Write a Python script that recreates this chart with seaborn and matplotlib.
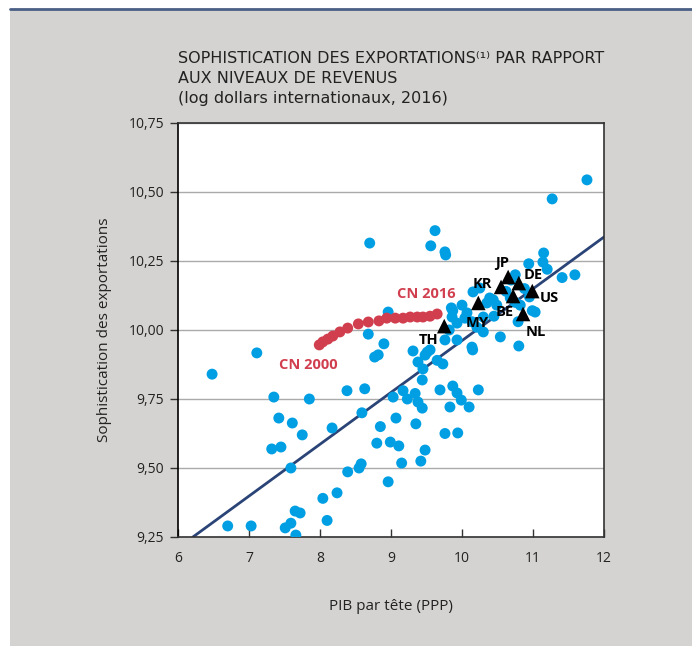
import matplotlib
matplotlib.use("Agg")
import matplotlib.pyplot as plt
import matplotlib.patches as mpatches
import matplotlib.lines as mlines
from matplotlib.ticker import FuncFormatter
import seaborn as sns
import pandas as pd

# Countries: log GDP per capita (PPP) vs export sophistication
gdp = [6.48, 7.11, 7.35, 7.85, 8.38, 8.63, 7.42, 7.61, 7.75, 7.32, 7.45, 8.17, 8.59, 8.85, 8.80,
       7.59, 8.39, 8.55, 8.58, 8.24, 8.04, 7.65, 7.72, 8.10, 6.70, 7.03, 7.51, 7.59, 7.66, 8.96,
       8.68, 8.90, 8.77, 8.82, 9.03, 8.70, 9.62, 9.56, 9.76, 9.77, 11.76, 11.27, 11.15, 11.14,
       11.20, 10.94, 11.41, 11.59, 10.75, 10.69, 10.155, 10.25, 10.39, 10.44, 10.35, 10.49, 10.68,
       10.82, 10.99, 11.03, 10.79, 10.80, 10.54, 10.30, 10.21, 10.14, 10.07, 9.87, 9.86, 10.04,
       10.30, 9.93, 10.15, 10.14, 9.76, 8.96, 9.93, 9.31, 9.51, 9.55, 9.48, 9.65, 9.73, 9.38,
       9.45, 9.44, 9.17, 9.23, 9.34, 9.38, 9.44, 9.69, 9.87, 9.93, 9.99, 10.23, 9.83, 10.10,
       9.07, 9.35, 9.76, 9.94, 8.99, 9.11, 9.48, 9.42, 9.15, 10.62, 10.75, 10.95, 10.88, 9.82,
       9.85, 10.0, 10.45]
sophistication = [9.84, 9.917, 9.757, 9.75, 9.78, 9.787, 9.681, 9.663, 9.62, 9.569, 9.576, 9.645, 9.70,
                  9.65, 9.59, 9.50, 9.486, 9.50, 9.515, 9.41, 9.39, 9.344, 9.337, 9.31, 9.29, 9.29,
                  9.283, 9.30, 9.257, 9.45, 9.985, 9.95, 9.902, 9.91, 9.757, 10.315, 10.36, 10.305,
                  10.283, 10.272, 10.544, 10.475, 10.279, 10.246, 10.22, 10.24, 10.19, 10.20, 10.20,
                  10.181, 10.138, 10.152, 10.116, 10.109, 10.098, 10.09, 10.116, 10.09, 10.07, 10.065,
                  10.03, 9.942, 9.975, 9.993, 10.01, 10.03, 10.062, 10.07, 10.047, 10.043, 10.047,
                  9.964, 9.928, 9.938, 9.964, 10.065, 10.025, 9.924, 9.92, 9.928, 9.909, 9.89, 9.877,
                  9.884, 9.859, 9.819, 9.78, 9.75, 9.77, 9.739, 9.717, 9.783, 9.797, 9.772, 9.746,
                  9.783, 9.721, 9.721, 9.681, 9.66, 9.625, 9.627, 9.594, 9.58, 9.565, 9.525, 9.518,
                  10.14, 10.10, 10.12, 10.15, 10.0, 10.08, 10.09, 10.05]

# China path 2000 -> 2016
cn_years = list(range(2000, 2017))
cn_gdp = [7.99, 8.04, 8.11, 8.18, 8.28, 8.39, 8.54, 8.68, 8.83, 8.94, 9.06, 9.17, 9.27, 9.37,
          9.45, 9.55, 9.65]
cn_soph = [9.946, 9.957, 9.967, 9.978, 9.993, 10.007, 10.022, 10.029, 10.033, 10.043, 10.043,
           10.043, 10.047, 10.047, 10.047, 10.05, 10.058]

# Highlighted countries
hl_codes = ["JP", "DE", "KR", "US", "BE", "MY", "NL", "TH"]
hl_gdp = [10.65, 10.80, 10.55, 10.99, 10.72, 10.23, 10.86, 9.75]
hl_soph = [10.192, 10.170, 10.156, 10.141, 10.123, 10.098, 10.058, 10.014]

# Fitted line end points
fit_gdp = [6.21, 12.0]
fit_soph = [9.25, 10.337]

blue = "#009fe3"
red = "#d13f4f"
navy = "#2b4477"
panel = "#d4d3d1"

sns.set_style("white")
plt.rcParams['font.family'] = ['Open Sans', 'DejaVu Sans']

fig = plt.figure(figsize=(6.92, 6.46), dpi=100, facecolor="white")
# grey panel and top rule
fig.patches.append(mpatches.Rectangle((10 / 692, 0), 1, 1 - 10 / 646, transform=fig.transFigure,
                                      facecolor=panel, edgecolor="none", zorder=-10))
fig.lines.append(mlines.Line2D([10 / 692, 1], [1 - 9 / 646, 1 - 9 / 646], transform=fig.transFigure,
                               color="#4a5f85", linewidth=2, zorder=-5))

ax = fig.add_axes([178 / 692, 109 / 646, 426 / 692, 414 / 646])
ax.set_zorder(1)
ax.set_facecolor("white")

df = pd.DataFrame({"gdp": gdp, "soph": sophistication})
cn = pd.DataFrame({"gdp": cn_gdp, "soph": cn_soph, "year": cn_years})
hl = pd.DataFrame({"gdp": hl_gdp, "soph": hl_soph, "code": hl_codes})

ax.plot(fit_gdp, fit_soph, color=navy, linewidth=2, zorder=2)
sns.scatterplot(data=df, x="gdp", y="soph", ax=ax, color=blue, s=62, edgecolor="none", zorder=3)
sns.scatterplot(data=cn, x="gdp", y="soph", ax=ax, color=red, s=62, edgecolor="none", zorder=4)
sns.scatterplot(data=hl, x="gdp", y="soph", ax=ax, color="black", marker="^", s=110,
                edgecolor="none", zorder=5)

# label offsets in pixels
offsets = {"JP": (-6, 14), "DE": (14, 8), "KR": (-19, 3), "US": (17, -7),
           "BE": (-8, -16), "MY": (-1, -20), "NL": (13, -18), "TH": (-16, -14)}
for code, x, y in zip(hl_codes, hl_gdp, hl_soph):
    ax.annotate(code, (x, y), xytext=offsets[code], textcoords="offset pixels",
                ha="center", va="center", fontsize=10.5, fontweight="bold", color="black", zorder=6)

ax.annotate("CN 2016", (cn_gdp[-1], cn_soph[-1]), xytext=(-11, 20), textcoords="offset pixels",
            ha="center", va="center", fontsize=10.5, fontweight="bold", color=red)
ax.annotate("CN 2000", (cn_gdp[0], cn_soph[0]), xytext=(-11, -20), textcoords="offset pixels",
            ha="center", va="center", fontsize=10.5, fontweight="bold", color=red)

ax.set_xlim(6, 12)
ax.set_ylim(9.25, 10.75)
ax.set_xticks([6, 7, 8, 9, 10, 11, 12])
ax.set_yticks([9.25, 9.5, 9.75, 10.0, 10.25, 10.5, 10.75])
ax.yaxis.set_major_formatter(FuncFormatter(lambda v, p: f"{v:.2f}".replace(".", ",")))
ax.grid(axis="y", color="#aaaaaa", linewidth=1)
ax.grid(axis="x", visible=False)
ax.set_axisbelow(True)
for s in ax.spines.values():
    s.set_color("#333333")
    s.set_linewidth(1.2)
ax.spines["left"].set_color("black")
ax.tick_params(axis="x", direction="in", length=6, width=1, color="#333333", labelsize=10,
               pad=10, labelcolor="#222222", bottom=True)
ax.tick_params(axis="y", direction="out", length=6, width=1, color="#333333", labelsize=10,
               pad=4, labelcolor="#222222", left=True)
ax.set_xlabel("PIB par tête (PPP)", fontsize=11, color="#222222", labelpad=24)
ax.set_ylabel("Sophistication des exportations", fontsize=11, color="#222222", labelpad=12)

fig.text(178 / 692, 1 - 51 / 646,
         "SOPHISTICATION DES EXPORTATIONS\u207d\u00b9\u207e PAR RAPPORT\nAUX NIVEAUX DE REVENUS\n"
         "(log dollars internationaux, 2016)",
         ha="left", va="top", fontsize=11.5, color="#222222", linespacing=1.4,
         family=['Liberation Sans Narrow', 'DejaVu Sans'])

fig.savefig("out.png", dpi=100, facecolor=fig.get_facecolor())
